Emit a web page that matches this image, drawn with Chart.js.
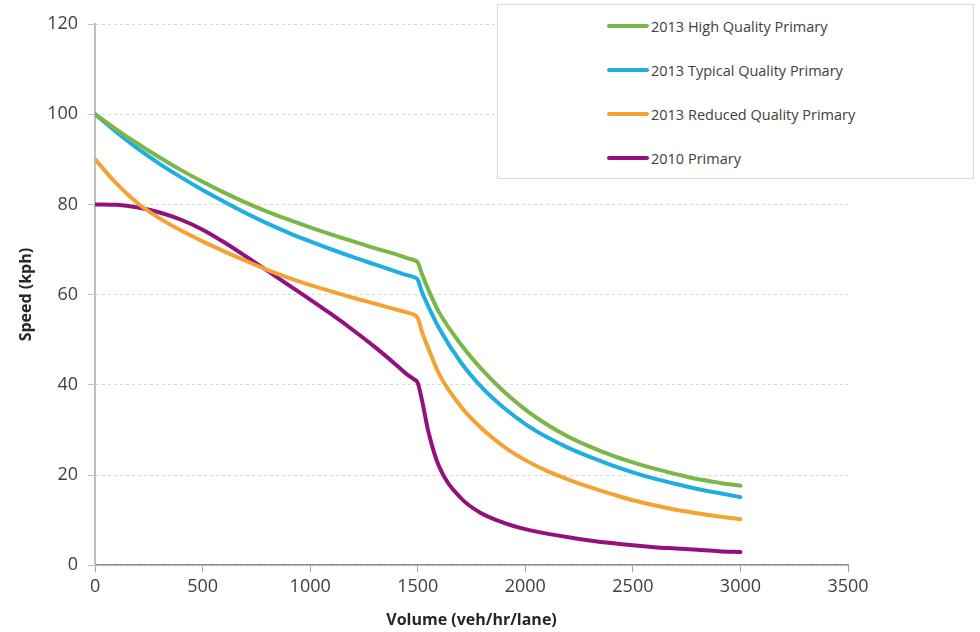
<!DOCTYPE html>
<html>
<head>
<meta charset="utf-8">
<script src="https://cdn.jsdelivr.net/npm/chart.js@4.4.1/dist/chart.umd.min.js"></script>
<style>
  html, body { margin: 0; padding: 0; background: #fff; }
  #wrap { position: relative; width: 980px; height: 632px; }
  #legend {
    position: absolute; left: 497px; top: 4px; width: 477px; height: 175px;
    border: 1px solid #d9d9d9; background: #fff; box-sizing: border-box;
    font-family: "Open Sans", sans-serif; font-size: 14.5px; color: #404040;
  }
  .item { position: absolute; left: 109px; height: 20px; display: flex; align-items: center; white-space: nowrap; }
  .swatch { width: 42px; height: 4px; border-radius: 2px; margin-right: 2px; }
</style>
</head>
<body>
<div id="wrap">
  <canvas id="c" width="980" height="632"></canvas>
  <div id="legend"></div>
</div>
<script>
const volumes = [0,100,200,300,400,500,600,700,800,900,1000,1100,1200,1300,1400,1450,1480,1500,1520,1550,1600,1700,1800,1900,2000,2100,2200,2300,2400,2500,2600,2700,2800,2900,3000];

const highQuality    = [100,96.6,93.4,90.4,87.6,85.0,82.6,80.4,78.4,76.6,74.9,73.3,71.8,70.3,68.9,68.1,67.7,67.1,64.5,61.0,56.0,49.0,43.3,38.5,34.5,31.2,28.5,26.3,24.4,22.8,21.4,20.2,19.1,18.3,17.6];
const typicalQuality = [100,96.0,92.3,89.0,86.0,83.2,80.6,78.1,75.8,73.7,71.8,70.0,68.3,66.7,65.1,64.3,63.9,63.3,60.5,57.3,52.5,45.0,39.3,34.9,31.3,28.4,26.0,24.0,22.2,20.6,19.2,18.0,16.9,16.0,15.1];
const reducedQuality = [90,84.6,80.2,76.9,74.2,71.8,69.6,67.5,65.5,63.7,62.1,60.7,59.3,58.0,56.7,56.0,55.6,54.8,51.7,48.0,42.3,35.2,30.2,26.3,23.3,20.9,19.0,17.3,15.8,14.4,13.3,12.3,11.5,10.8,10.2];
const primary2010    = [80,79.9,79.3,78.2,76.6,74.4,71.6,68.5,65.3,62.1,58.9,55.6,52.1,48.4,44.4,42.3,41.3,40.4,36.5,29.5,21.8,14.9,11.4,9.4,8.0,7.0,6.2,5.5,4.9,4.4,4.0,3.7,3.4,3.1,2.9];

const seriesLabels = ["2013 High Quality Primary","2013 Typical Quality Primary","2013 Reduced Quality Primary","2010 Primary"];
const seriesValues = [highQuality, typicalQuality, reducedQuality, primary2010];
const seriesColors = ["#7ab648","#1eaee0","#f4a233","#93117e"];

const yTicks = [0,20,40,60,80,100,120];
const xTicks = [0,500,1000,1500,2000,2500,3000,3500];

const datasets = seriesValues.map((vals, i) => ({
  label: seriesLabels[i],
  data: vals.map((v, j) => ({ x: volumes[j], y: v })),
  borderColor: seriesColors[i],
  backgroundColor: seriesColors[i],
  borderWidth: 4,
  pointRadius: 0,
  fill: false,
  cubicInterpolationMode: 'monotone',
  borderCapStyle: 'round',
  borderJoinStyle: 'round'
}));

const tickFont = { family: "Open Sans", size: 18 };
const titleFont = { family: "Open Sans", size: 16, weight: 'bold' };

new Chart(document.getElementById('c'), {
  type: 'line',
  data: { datasets },
  options: {
    responsive: false,
    animation: false,
    layout: { padding: { left: 17, right: 132, top: 24, bottom: 2 } },
    plugins: { legend: { display: false }, tooltip: { enabled: false } },
    scales: {
      x: {
        type: 'linear', min: 0, max: 3500,
        afterBuildTicks: (s) => { s.ticks = xTicks.map(v => ({ value: v })); },
        ticks: { font: tickFont, color: '#404040', padding: 4, maxRotation: 0, callback: (v) => String(v) },
        grid: { drawOnChartArea: false, drawTicks: true, tickLength: 7, tickColor: '#a6a6a6' },
        border: { display: true, color: '#8c8c8c', width: 1.5 },
        title: { display: true, text: 'Volume (veh/hr/lane)', font: titleFont, color: '#262626', padding: { top: 9, bottom: 0 } }
      },
      y: {
        type: 'linear', min: 0, max: 120,
        afterBuildTicks: (s) => { s.ticks = yTicks.map(v => ({ value: v })); },
        ticks: { font: tickFont, color: '#404040', padding: 10, callback: (v) => String(v) },
        grid: { color: '#d9d9d9', tickLength: 7, tickColor: '#bfbfbf', tickBorderDash: [] },
        border: { display: true, color: '#bfbfbf', width: 2, dash: [3, 3] },
        title: { display: true, text: 'Speed (kph)', font: titleFont, color: '#262626', padding: { top: 0, bottom: 1 } }
      }
    }
  }
});

const legend = document.getElementById('legend');
const itemTops = [11, 55, 99, 143];
seriesLabels.forEach((lab, i) => {
  const it = document.createElement('div');
  it.className = 'item';
  it.style.top = itemTops[i] + 'px';
  const sw = document.createElement('span');
  sw.className = 'swatch';
  sw.style.background = seriesColors[i];
  const tx = document.createElement('span');
  tx.textContent = lab;
  it.appendChild(sw); it.appendChild(tx);
  legend.appendChild(it);
});
</script>
</body>
</html>
